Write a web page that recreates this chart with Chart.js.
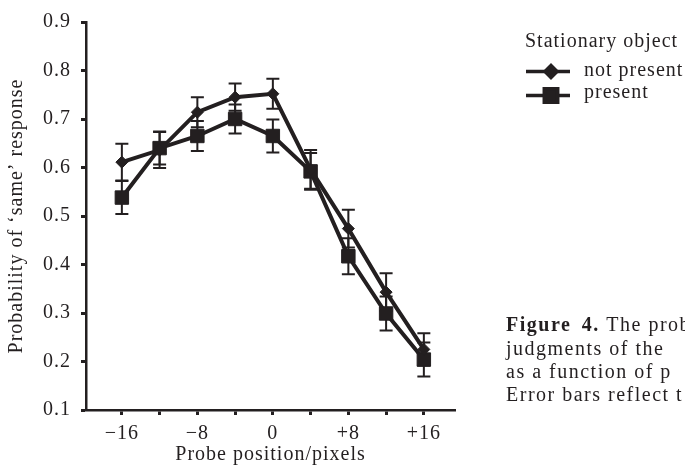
<!DOCTYPE html>
<html>
<head>
<meta charset="utf-8">
<script src="https://cdn.jsdelivr.net/npm/chart.js@4"></script>
<style>
  html, body { margin: 0; padding: 0; background: #fff; }
  #myChart { display: block; }
</style>
</head>
<body>
<canvas id="myChart" width="685" height="467"></canvas>
<script>
// probe positions (pixels) and the tick marks on each axis
const positions = [-16, -12, -8, -4, 0, 4, 8, 12, 16];
const xTicks = [-16, -12, -8, -4, 0, 4, 8, 12, 16];
const yTicks = [0.1, 0.2, 0.3, 0.4, 0.5, 0.6, 0.7, 0.8, 0.9];

// stationary object: not present (diamonds)
const notPresent    = [0.611, 0.636, 0.714, 0.745, 0.752, 0.596, 0.474, 0.343, 0.225];
const notPresentErr = [0.038, 0.037, 0.031, 0.028, 0.031, 0.040, 0.039, 0.039, 0.033];
// stationary object: present (squares)
const present    = [0.538, 0.640, 0.665, 0.700, 0.665, 0.592, 0.417, 0.299, 0.204];
const presentErr = [0.034, 0.034, 0.031, 0.030, 0.034, 0.038, 0.037, 0.035, 0.035];

const legendTitle = 'Stationary object';
const seriesNames = ['not present', 'present'];
const captionBold = 'Figure 4.';
const captionLines = [' The prob', 'judgments of the', 'as a function of p', 'Error bars reflect t'];

const INK = '#231f20';
const FONT = '"Liberation Serif", "Times New Roman", serif';

document.addEventListener('DOMContentLoaded', () => {
  const setSpacing = chart => { chart.ctx.letterSpacing = '1px'; };

  // vertical error bars with caps, drawn under the markers
  const errorBars = {
    id: 'errorBars',
    beforeDatasetsDraw(chart) {
      const ctx = chart.ctx;
      const xs = chart.scales.x, ys = chart.scales.y;
      ctx.save();
      ctx.strokeStyle = INK;
      ctx.lineWidth = 2;
      chart.data.datasets.forEach(ds => {
        ds.data.forEach((p, j) => {
          const e = ds.errors[j];
          const px = xs.getPixelForValue(p.x);
          const top = ys.getPixelForValue(p.y + e);
          const bot = ys.getPixelForValue(p.y - e);
          ctx.beginPath();
          ctx.moveTo(px, top); ctx.lineTo(px, bot);
          ctx.moveTo(px - 6.5, top); ctx.lineTo(px + 6.5, top);
          ctx.moveTo(px - 6.5, bot); ctx.lineTo(px + 6.5, bot);
          ctx.stroke();
        });
      });
      ctx.restore();
    }
  };

  // legend at top right and the caption text at bottom right
  const extras = {
    id: 'extras',
    beforeUpdate: setSpacing,
    beforeDraw: setSpacing,
    afterDraw(chart) {
      const ctx = chart.ctx;
      ctx.save();
      ctx.fillStyle = INK;
      ctx.textBaseline = 'alphabetic';
      ctx.textAlign = 'left';
      ctx.font = '20px ' + FONT;
      ctx.fillText(legendTitle, 525, 47);

      const rows = [{ y: 71.5, text: 75.5 }, { y: 95.5, text: 98 }];
      chart.data.datasets.forEach((ds, i) => {
        const r = rows[i];
        ctx.strokeStyle = INK;
        ctx.lineWidth = 3.5;
        ctx.beginPath();
        ctx.moveTo(526, r.y); ctx.lineTo(570, r.y);
        ctx.stroke();
        ctx.fillStyle = INK;
        Chart.helpers.drawPoint(ctx, {
          pointStyle: ds.pointStyle, radius: ds.pointRadius, rotation: 0, borderWidth: 1
        }, 551, r.y);
        ctx.fillText(seriesNames[i], 584, r.text);
      });

      // caption (runs off the right edge, like the source page)
      const x0 = 506, baselines = [331, 355, 378, 401];
      ctx.letterSpacing = '1.5px';
      ctx.wordSpacing = '4px';
      ctx.font = 'bold 20px ' + FONT;
      ctx.fillText(captionBold, x0, baselines[0]);
      const w = ctx.measureText(captionBold).width;
      ctx.font = '20px ' + FONT;
      ctx.fillText(captionLines[0], x0 + w, baselines[0]);
      for (let i = 1; i < captionLines.length; i++) {
        ctx.fillText(captionLines[i], x0, baselines[i]);
      }
      ctx.restore();
    }
  };

  const ctx = document.getElementById('myChart').getContext('2d');
  new Chart(ctx, {
    type: 'line',
    data: {
      datasets: [{
        label: seriesNames[0],
        data: positions.map((x, i) => ({ x, y: notPresent[i] })),
        errors: notPresentErr,
        borderColor: INK,
        backgroundColor: INK,
        borderWidth: 4,
        pointStyle: 'rectRot',
        pointRadius: 6,
        pointBorderWidth: 1,
        tension: 0
      }, {
        label: seriesNames[1],
        data: positions.map((x, i) => ({ x, y: present[i] })),
        errors: presentErr,
        borderColor: INK,
        backgroundColor: INK,
        borderWidth: 4,
        pointStyle: 'rect',
        pointRadius: 9.5,
        pointBorderWidth: 1,
        tension: 0
      }]
    },
    options: {
      responsive: false,
      animation: false,
      events: [],
      layout: { padding: { left: 0, top: 20, right: 230, bottom: 0 } },
      plugins: { legend: { display: false }, tooltip: { enabled: false } },
      scales: {
        x: {
          type: 'linear',
          min: -19.8,
          max: 19.3,
          afterBuildTicks: s => { s.ticks = xTicks.map(v => ({ value: v })); },
          afterFit: s => { s.height = 57; },
          grid: { drawOnChartArea: false, tickLength: 5, tickWidth: 3, tickColor: INK },
          border: { color: INK, width: 2.5 },
          ticks: {
            color: INK,
            padding: 7,
            maxRotation: 0,
            font: { family: FONT, size: 20 },
            callback: v => v % 8 !== 0 ? '' : v === 0 ? '0' : (v > 0 ? '+' + v : '\u2212' + Math.abs(v))
          },
          title: {
            display: true,
            text: 'Probe position/pixels',
            color: INK,
            font: { family: FONT, size: 20 },
            padding: { top: 0, bottom: 0 }
          }
        },
        y: {
          min: 0.1,
          max: 0.9,
          afterBuildTicks: s => { s.ticks = yTicks.map(v => ({ value: v })); },
          afterFit: s => { s.width = 86; },
          grid: { drawOnChartArea: false, tickLength: 5, tickWidth: 3, tickColor: INK },
          border: { color: INK, width: 2.5 },
          ticks: {
            color: INK,
            padding: 10,
            font: { family: FONT, size: 20 },
            callback: v => v.toFixed(1)
          },
          title: {
            display: true,
            text: 'Probability of \u2018same\u2019 response',
            color: INK,
            font: { family: FONT, size: 20 },
            padding: { top: 5, bottom: 0 }
          }
        }
      }
    },
    plugins: [errorBars, extras]
  });
});
</script>
</body>
</html>
